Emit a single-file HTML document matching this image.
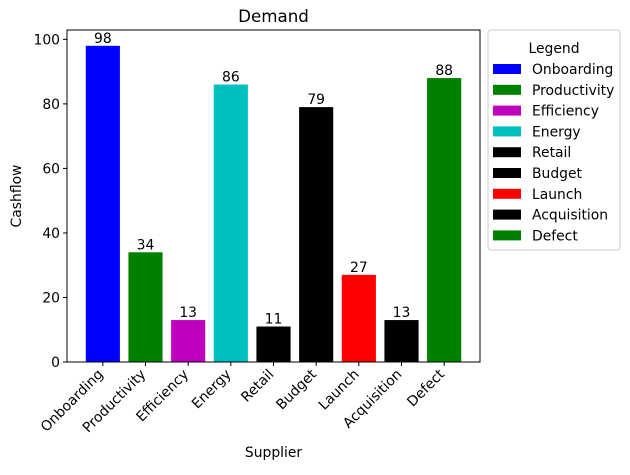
<!DOCTYPE html>
<html><head><meta charset="utf-8"><style>
body{margin:0;background:#fff;font-family:"Liberation Sans","DejaVu Sans",sans-serif;}
text{font-family:"DejaVu Sans","Liberation Sans",sans-serif;}
</style></head><body>
<svg id="chart" width="630" height="470" xmlns="http://www.w3.org/2000/svg"></svg>
<script>
const categories=["Onboarding","Productivity","Efficiency","Energy","Retail","Budget","Launch","Acquisition","Defect"];
const values=[98,34,13,86,11,79,27,13,88];
const colors=["#0000ff","#008000","#bf00bf","#00bfbf","#000000","#000000","#ff0000","#000000","#008000"];
const yTicks=[0,20,40,60,80,100];
const svg=document.getElementById('chart');
const NS="http://www.w3.org/2000/svg";
const L=67,R=480,T=30,B=362;
const FS=13.9;
const yMax=Math.max(...values)*1.05;
const n=categories.length;
const xMin=-0.4-(n-0.2)*0.05, xMax=n-1+0.4+(n-0.2)*0.05;
const xs=v=>L+(v-xMin)/(xMax-xMin)*(R-L);
const ys=v=>B-v/yMax*(B-T);
const unit=(R-L)/(xMax-xMin);
function el(tag,attrs,txt){const e=document.createElementNS(NS,tag);for(const k in attrs)e.setAttribute(k,attrs[k]);if(txt!==undefined)e.textContent=txt;svg.appendChild(e);return e;}
let t=el('text',{x:(L+R)/2,y:22,'text-anchor':'middle','font-size':16.7},'Demand');


values.forEach((v,i)=>{
 const cx=xs(i),w=0.8*unit;
 const r=el('rect',{x:cx-w/2,y:ys(v),width:w,height:B-ys(v),fill:colors[i]});
 
 
 const lb=el('text',{x:cx,y:ys(v)-3,'text-anchor':'middle','font-size':FS},String(v));
 
 
 el('line',{x1:cx,x2:cx,y1:B,y2:B+4,stroke:'#000'});
 const tl=el('text',{x:cx+1,y:B+13,'text-anchor':'end','font-size':FS,transform:`rotate(-45 ${cx+1} ${B+13})`},categories[i]);
 
 
});
yTicks.forEach(v=>{
 const y=ys(v);
 el('line',{x1:L-4,x2:L,y1:y,y2:y,stroke:'#000'});
 const tl=el('text',{x:L-7,y:y+5,'text-anchor':'end','font-size':FS},String(v));
 
 
});
const ax=el('rect',{x:L,y:T,width:R-L,height:B-T,fill:'none',stroke:'#000','stroke-width':1});


t=el('text',{x:(L+R)/2,y:457,'text-anchor':'middle','font-size':FS},'Supplier');


t=el('text',{x:21,y:(T+B)/2,'text-anchor':'middle','font-size':FS,transform:`rotate(-90 21 ${(T+B)/2})`},'Cashflow');


const lg=el('rect',{x:488,y:30,width:132,height:220,rx:3,fill:'#fff',stroke:'#ccc'});


t=el('text',{x:554,y:53,'text-anchor':'middle','font-size':FS},'Legend');


categories.forEach((c,i)=>{
 const y=64+i*20.8;
 const p=el('rect',{x:493,y:y,width:28,height:10,fill:colors[i]});
 
 
 const tx=el('text',{x:532,y:y+10,'font-size':FS},c);
 
 
});
</script>
</body></html>
